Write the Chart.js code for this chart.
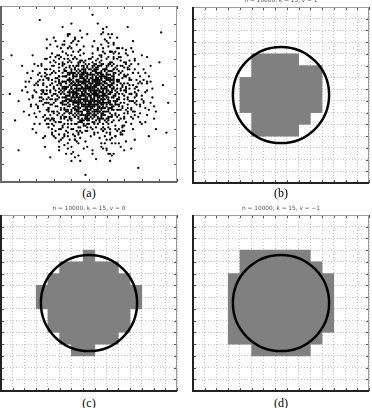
<!DOCTYPE html>
<html><head><meta charset="utf-8">
<script src="https://cdn.jsdelivr.net/npm/chart.js@4/dist/chart.umd.min.js"></script>
<style>
html,body{margin:0;padding:0;background:#fff;width:372px;height:408px;overflow:hidden;position:relative}
canvas{position:absolute}
.lab{position:absolute;font-family:"Liberation Serif","DejaVu Serif",serif;font-size:12px;color:#000;width:176px;text-align:center;line-height:12px}
</style></head><body>
<canvas id="ca" width="184" height="184" style="left:-3px;top:2px"></canvas>
<canvas id="cb" width="184" height="194" style="left:189px;top:-7px"></canvas>
<canvas id="cc" width="184" height="194" style="left:-3px;top:201px"></canvas>
<canvas id="cd" width="184" height="194" style="left:189px;top:201px"></canvas>
<div class="lab" style="left:1px;top:187px">(a)</div>
<div class="lab" style="left:193px;top:187px">(b)</div>
<div class="lab" style="left:1px;top:397px">(c)</div>
<div class="lab" style="left:193px;top:397px">(d)</div>
<script>
// ---- data ----
const gridK = 15;
const panelTitles = ['n = 10000, k = 15, v = 1', 'n = 10000, k = 15, v = 0', 'n = 10000, k = 15, v = \u22121'];
// occupied cells per column (column index, lower and upper cell edge, y counted from bottom)
const bCols = [4, 5, 6, 7, 8, 9, 10];
const bLow  = [6, 4, 4, 4, 4, 5, 6];
const bHigh = [9, 11, 11, 11, 11, 10, 10];
const cCols = [3, 4, 5, 6, 7, 8, 9, 10, 11];
const cLow  = [7, 5, 4, 3, 3, 4, 4, 5, 7];
const cHigh = [9, 10, 11, 11, 12, 11, 11, 10, 9];
const dCols = [3, 4, 5, 6, 7, 8, 9, 10, 11];
const dLow  = [4, 4, 3, 3, 3, 3, 3, 4, 5];
const dHigh = [10, 12, 12, 12, 12, 12, 12, 11, 10];
const circleCenter = [7.5, 7.5];
const circleRadius = 4.1;
// sample cloud of panel (a), x,y pairs on a 0..100 box
const cloudXY = [
52,47,38,61,61,40,45,55,29,44,57,66,49,31,70,52,43,49,55,58,
34,36,63,55,48,42,22,58,58,29,41,70,67,63,51,51,39,46,76,38,
46,60,59,45,31,52,53,37,44,27,64,71,36,64,50,53,72,47,27,33,
56,52,42,39,65,46,47,65,35,57,60,34,53,43,40,51,81,58,49,20,
18,49,54,62,45,45,62,58,37,41,50,36,69,42,43,58,58,50,33,72,
48,48,61,67,26,61,55,41,40,33,66,53,51,59,30,39,47,73,63,38,
57,56,44,43,53,28,36,50,70,61,41,62,59,47,49,40,24,52,65,30,
52,44,39,55,47,35,62,44,32,47,55,70,68,56,44,67,58,38,85,45,
42,47,57,60,35,31,50,45,64,49,46,54,28,68,61,33,54,54,73,66,
40,58,53,50,48,62,66,41,31,59,56,46,45,38,60,62,38,43,13,40,
51,39,43,52,58,57,34,45,63,60,47,44,55,33,39,66,71,54,57,78,
46,51,60,40,37,37,52,65,44,31,67,47,29,56,54,49,49,57,42,24,
59,53,48,37,41,46,55,59,64,35,36,60,51,47,62,51,33,34,78,62,
45,48,56,43,50,70,39,52,61,55,47,41,26,45,58,64,43,61,68,27,
53,55,44,40,63,63,35,48,52,34,57,49,40,64,48,52,67,57,23,66,
49,44,55,53,42,56,60,45,32,40,46,66,58,31,51,61,37,53,74,50,
54,46,41,49,47,58,65,52,38,35,53,41,62,68,45,59,30,50,59,22,
50,50,57,38,43,45,36,67,61,48,48,55,53,63,27,40,66,37,40,76,
47,53,60,58,52,42,39,39,56,62,44,50,70,45,34,55,49,33,62,74,
55,49,42,60,58,44,46,38,33,63,51,56,64,54,38,47,54,69,16,57,
48,46,63,42,40,54,56,35,44,64,69,59,31,43,52,58,58,52,45,29,
37,49,54,44,49,66,61,37,43,57,28,51,66,64,50,41,57,71,82,51,
44,53,59,50,35,38,52,53,47,47,64,43,39,61,55,65,72,40,20,37,
56,57,41,44,48,32,62,61,34,52,53,46,45,69,60,53,38,58,49,84,
51,43,46,59,57,47,40,36,65,50,33,58,52,61,43,41,59,35,76,70,
42,51,55,55,61,45,37,63,49,39,68,52,45,46,29,36,54,60,63,25,
58,48,47,56,39,46,53,39,44,62,62,57,36,42,50,67,70,49,25,62,
46,43,54,51,60,66,42,37,51,48,35,54,57,42,48,60,66,44,41,80,
53,58,40,48,49,53,63,48,45,35,56,68,31,47,59,56,38,70,87,36,
50,46,58,61,44,39,36,57,61,41,47,63,55,37,41,55,64,62,12,52,
47,50,52,36,39,59,57,54,43,45,65,38,34,41,54,63,49,55,71,60,
55,44,44,58,62,50,48,41,37,53,59,64,42,33,51,52,67,48,26,70,
43,46,57,59,50,38,35,62,60,43,46,57,53,48,39,37,63,66,52,16,
49,59,41,42,56,49,64,56,45,52,32,49,58,40,47,68,54,57,79,44,
52,52,46,35,38,51,61,63,55,46,42,65,67,41,50,44,33,60,44,22,
57,45,48,54,43,49,53,66,60,52,37,44,51,31,45,61,69,55,22,46,
45,55,59,42,52,59,40,41,64,60,48,36,35,67,56,51,42,53,61,79,
54,50,43,63,49,43,58,46,36,46,62,54,47,49,53,34,39,57,74,33,
48,57,56,40,41,50,51,62,66,47,44,42,59,59,30,54,53,44,37,29,
51,45,46,50,60,56,38,40,55,64,43,54,65,45,49,37,57,61,84,60,
20,28,80,72,15,62,88,40,30,82,70,18,25,20,75,80,10,46,92,55,
35,88,62,12,18,72,84,26,40,90,58,85,8,35,90,68,28,14,72,88,
22,40,78,56,26,76,76,24,14,54,86,48,33,20,66,82,45,12,55,90,
19,33,81,64,24,58,79,34,31,25,69,76,12,66,88,30,38,84,64,16,
27,48,73,50,23,67,77,44,29,30,71,68,17,43,83,57,36,78,63,22,
21,55,82,42,26,36,75,62,32,72,68,28,16,38,85,66,42,82,60,18,
5,50,95,45,48,4,52,95,6,72,94,28,22,92,78,8,10,18,91,85,
24,44,77,54,28,64,74,37,30,35,67,71,19,52,80,47,34,76,65,26,
26,52,73,46,31,68,70,32,21,42,79,60,36,26,63,74,44,80,57,20,
23,60,76,40,29,28,72,72,18,48,83,52,33,30,68,66,40,16,61,84,
50,52,45,47,54,41,41,57,58,55,47,44,52,63,39,50,61,46,44,36,
53,47,48,58,42,45,57,39,46,53,60,60,51,42,38,54,55,50,49,65,
47,41,56,56,43,60,51,49,62,42,40,47,54,58,46,39,59,63,36,52,
52,54,44,48,58,43,49,61,41,38,55,47,47,57,63,53,39,44,50,35,
46,56,53,45,40,62,57,51,50,40,43,53,61,58,48,47,35,45,56,66,
55,52,49,46,45,60,52,38,60,48,42,42,54,67,47,52,57,44,38,62,
48,51,51,59,43,43,59,57,46,64,56,42,40,56,53,52,62,39,45,49,
51,48,47,62,56,46,42,50,58,60,44,37,50,56,61,50,37,47,54,40,
49,54,53,43,45,57,60,44,41,61,55,61,48,38,52,50,43,66,64,58,
54,56,46,45,50,64,57,37,39,49,62,55,44,55,51,44,48,69,58,49,
30,45,70,56,33,60,67,38,28,55,72,44,35,32,64,70,42,26,58,74,
31,62,68,36,25,50,74,58,34,37,65,65,40,72,60,28,27,42,71,52,
33,53,66,47,29,40,69,63,36,70,62,30,24,56,75,46,41,30,57,72,
32,43,67,58,35,66,63,34,26,47,73,53,38,28,61,71,45,75,53,27,
29,58,71,41,34,34,66,66,24,52,76,51,37,73,60,24,43,23,55,76,
36,39,64,61,28,47,70,36,33,67,68,69,25,64,77,58,39,77,62,27,
34,56,65,44,30,36,69,50,37,65,61,36,27,59,72,64,46,28,52,73,
31,50,68,53,36,44,63,68,26,41,74,42,40,68,59,30,44,74,56,25,
35,46,66,57,29,62,70,39,38,31,64,64,23,48,77,49,47,77,51,26,
33,48,67,50,37,60,62,37,28,38,71,60,41,70,58,33,30,66,69,32,
50,49,46,51,53,54,48,43,44,57,56,48,42,48,52,46,49,60,55,40,
47,47,51,55,45,42,57,58,43,51,54,44,49,35,59,54,41,59,53,61,
52,50,48,49,55,56,44,46,50,58,46,40,58,51,40,53,53,38,47,66,
49,47,54,59,46,54,51,41,57,45,43,58,48,64,55,36,42,41,60,59,
51,53,47,46,53,49,45,63,58,42,41,52,50,43,56,62,44,44,48,56,
25,35,72,61,38,22,64,78,21,66,80,33,44,15,57,84,15,51,85,57,
28,71,69,27,33,18,76,69,19,39,82,62,40,79,60,19,24,25,74,76,
36,80,63,15,22,48,78,52,30,26,71,75,17,59,84,41,45,86,54,13,
26,64,75,36,32,77,67,22,20,44,79,57,41,17,59,81,27,31,73,69,
23,52,77,46,35,25,65,74,18,63,83,38,46,82,52,18,29,73,70,29,
39,24,61,77,24,37,76,64,31,80,68,20,16,47,86,53,42,14,58,87,
27,58,72,42,34,71,66,29,22,33,78,67,38,83,62,16,20,56,81,46,
30,40,70,60,25,70,75,30,37,16,63,84,14,57,87,43,47,19,53,80,
33,27,67,73,21,43,80,56,28,78,71,23,40,12,60,88,19,67,82,34,
24,47,76,53,36,33,64,67,26,81,74,19,43,78,57,22,18,30,83,71,
32,55,68,45,40,30,60,70,27,42,73,58,45,25,55,75,35,68,65,32,
38,72,62,28,29,49,71,51,43,33,57,67,33,39,67,61,48,23,52,77,
26,50,74,50,37,63,63,37,30,32,70,68,42,71,58,29,34,45,66,55,
41,27,59,73,31,57,69,43,36,36,64,64,28,61,72,39,46,69,54,31,
35,51,65,49,44,28,56,72,29,66,71,34,39,39,61,61,32,59,68,41,
42,64,58,36,27,45,73,55,38,26,62,74,33,70,67,30,47,33,53,67,
30,53,70,47,36,41,64,59,25,38,75,62,41,74,59,26,44,44,56,56,
37,57,63,43,31,34,69,66,43,70,57,30,28,52,72,48,39,65,61,35,
34,42,66,58,45,72,55,28,26,59,74,41,40,35,60,65,31,71,69,29,
40,46,60,54,33,65,67,35,29,27,71,73,37,48,63,52,46,62,54,38,
28,44,72,56,39,69,61,31,34,30,66,70,24,55,76,45,43,38,57,62,
36,54,64,46,30,63,70,37,42,24,58,76,27,36,73,64,45,57,55,43,
31,46,69,54,38,33,62,67,35,74,65,26,23,50,77,50,48,29,52,71,
41,60,59,40,26,54,74,46,32,38,68,62,44,66,56,34,36,27,64,73,
33,57,67,43,43,41,57,59,29,33,71,67,38,76,62,24,25,45,75,55,
44,52,58,47,39,58,53,33,61,55,47,64,35,44,56,60,49,41,42,37,
57,53,46,47,63,41,38,49,52,57,41,66,66,58,49,29,55,45,33,56,
50,61,43,40,59,64,36,53,48,45,62,50,45,34,54,52,40,63,67,44,
47,38,55,59,42,55,60,36,51,46,37,60,58,67,44,47,64,53,53,40,
39,43,52,68,48,53,63,58,43,29,56,45,34,50,59,38,46,61,50,33,
54,64,41,51,57,41,45,68,62,45,36,37,51,54,48,36,65,62,40,56,
49,50,60,61,37,46,53,57,44,34,58,53,42,62,55,39,33,51,61,66,
46,44,52,43,64,48,39,62,57,36,47,59,35,57,62,63,50,39,43,50,
58,45,45,53,40,40,54,65,49,48,66,51,38,68,52,30,60,58,41,45,
43,58,56,51,51,37,47,50,63,44,37,56,55,62,44,41,59,49,48,67,
52,40,40,53,61,52,46,36,55,66,42,46,50,57,65,39,36,63,57,47,
48,63,59,42,44,56,53,51,38,41,62,59,47,32,56,55,41,49,51,70,
45,40,54,55,60,49,42,64,50,44,35,53,57,61,49,36,63,56,39,47,
56,58,47,43,41,61,58,39,46,49,53,64,39,36,61,47,52,56,44,68,
50,43,43,55,55,48,38,45,60,64,48,58,66,46,45,31,53,53,35,60,
41,48,57,63,49,38,52,60,44,42,63,51,37,54,56,36,47,61,59,57,
53,51,46,62,58,55,40,39,51,45,61,42,43,66,55,57,48,44,36,48,
47,56,55,42,42,43,59,60,50,54,38,58,64,57,46,34,52,47,57,69,
44,45,51,64,62,46,47,53,39,51,56,40,49,62,60,51,41,57,54,35,
58,50,49,42,45,63,54,46,37,40,61,59,43,48,52,66,48,51,64,41,
24,51,76,48,29,36,70,65,33,23,67,76,21,61,79,39,38,19,62,82,
27,41,73,59,30,69,69,31,23,46,77,54,36,21,64,79,19,55,81,45,
22,62,78,37,31,29,68,71,26,33,74,67,40,20,60,80,17,44,83,56,
29,47,71,53,25,60,75,40,34,24,66,76,20,51,80,49,42,81,58,19,
28,35,72,65,35,78,65,22,21,57,79,43,39,84,61,16,25,26,75,74
];

// ---- drawing ----
const framePlugin = {
  id: 'frame',
  afterDraw(chart, args, opts) {
    const {ctx, chartArea: a, scales: {x, y}} = chart;
    const L = 3;
    ctx.save();
    ctx.strokeStyle = '#555';
    ctx.lineWidth = 1;
    ctx.beginPath();
    x.ticks.forEach(t => {
      const p = Math.round(x.getPixelForValue(t.value)) + 0.5;
      ctx.moveTo(p, a.bottom); ctx.lineTo(p, a.bottom - L);
      ctx.moveTo(p, a.top); ctx.lineTo(p, a.top + L);
    });
    y.ticks.forEach(t => {
      const p = Math.round(y.getPixelForValue(t.value)) + 0.5;
      ctx.moveTo(a.left, p); ctx.lineTo(a.left + L, p);
      ctx.moveTo(a.right, p); ctx.lineTo(a.right - L, p);
    });
    ctx.stroke();
    ctx.strokeStyle = '#9a9a9a';
    ctx.lineWidth = 1;
    ctx.beginPath();
    ctx.moveTo(a.left, a.top + 0.5); ctx.lineTo(a.right, a.top + 0.5);
    ctx.moveTo(a.right - 0.5, a.top); ctx.lineTo(a.right - 0.5, a.bottom);
    ctx.stroke();
    ctx.strokeStyle = opts.dark || '#333';
    ctx.lineWidth = 2;
    ctx.beginPath();
    ctx.moveTo(a.left, a.top); ctx.lineTo(a.left, a.bottom);
    ctx.lineTo(a.right, a.bottom);
    ctx.stroke();
    ctx.restore();
  }
};

const pad = {left: 4, right: 4, top: 4, bottom: 4};

function cloudPoints() {
  const pts = [];
  for (let i = 0; i + 1 < cloudXY.length; i += 2) pts.push({x: cloudXY[i], y: cloudXY[i + 1]});
  return pts;
}

new Chart(document.getElementById('ca'), {
  type: 'scatter',
  data: {datasets: [{data: cloudPoints(), pointRadius: 1.15, pointBorderWidth: 0, pointBackgroundColor: '#000'}]},
  options: {
    responsive: false, animation: false, events: [],
    layout: {padding: pad},
    plugins: {legend: {display: false}, tooltip: {enabled: false}, frame: {dark: '#666'}},
    scales: {
      x: {type: 'linear', min: 0, max: 100, ticks: {display: false, stepSize: 10}, grid: {display: false, drawTicks: false}, border: {display: false}},
      y: {type: 'linear', min: 0, max: 100, ticks: {display: false, stepSize: 10}, grid: {display: false, drawTicks: false}, border: {display: false}}
    }
  },
  plugins: [framePlugin]
});

function gridChart(id, cols, low, high, title) {
  const axis = {
    type: 'linear', min: 0, max: gridK, offset: false,
    ticks: {display: false, stepSize: 1},
    grid: {color: '#c4c4c4', lineWidth: 1, drawTicks: false, offset: false},
    border: {display: false, dash: [1, 2]}
  };
  new Chart(document.getElementById(id), {
    type: 'scatter',
    data: {
      datasets: [
        {
          type: 'bar',
          data: cols.map((c, i) => ({x: c + 0.5, y: [low[i], high[i]]})),
          backgroundColor: '#808080', borderWidth: 0,
          barPercentage: 1, categoryPercentage: 1, order: 2
        },
        {
          type: 'scatter',
          data: [{x: circleCenter[0], y: circleCenter[1]}],
          pointRadius: c => {
            const s = c.chart.scales.x;
            return Math.abs(s.getPixelForValue(circleRadius) - s.getPixelForValue(0));
          },
          pointBackgroundColor: 'rgba(0,0,0,0)', pointBorderColor: '#000', pointBorderWidth: 2.5,
          order: 1
        }
      ]
    },
    options: {
      responsive: false, animation: false, events: [],
      layout: {padding: pad},
      plugins: {
        legend: {display: false}, tooltip: {enabled: false},
        title: {display: true, text: title, color: '#555', font: {family: 'DejaVu Sans', size: 5.8, weight: 'normal'}, padding: {top: 0, bottom: 3.04}},
        frame: {dark: '#222'}
      },
      scales: {x: axis, y: JSON.parse(JSON.stringify(axis))}
    },
    plugins: [framePlugin]
  });
}

gridChart('cb', bCols, bLow, bHigh, panelTitles[0]);
gridChart('cc', cCols, cLow, cHigh, panelTitles[1]);
gridChart('cd', dCols, dLow, dHigh, panelTitles[2]);
</script>
</body></html>
